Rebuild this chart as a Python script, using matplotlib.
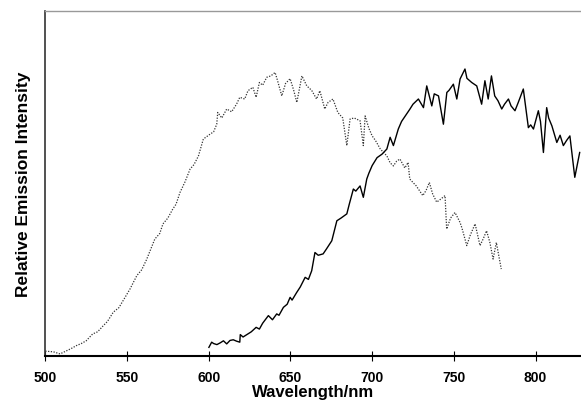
import matplotlib
matplotlib.use("Agg")
import matplotlib.pyplot as plt

# Dotted emission spectrum (wavelength nm, relative intensity)
dotted_nm = [500, 505, 509, 513, 516, 519, 522, 525, 529, 532, 535.5, 538, 541.6, 545, 548.8, 551.8, 556,
             559, 562, 567, 570, 572, 575, 578, 580,
             582.4, 585.5, 588.6, 591, 593.7, 596.7, 600.8, 603, 604.9, 605.5, 608, 611, 614, 617, 619,
             622, 624, 627, 629, 631, 633,
             635.5, 638, 640.6, 642, 644.7, 647, 649.8, 652, 653.9, 657, 660, 663, 666, 668, 671, 673,
             676, 679, 682, 684.5, 686.5, 689, 692.6, 694.6, 695.7, 698, 700, 702, 705, 709, 711, 713,
             715, 717, 720, 722, 723, 727, 731, 733, 735, 737, 739.5, 742, 744.6,
             745.6, 748, 750.7, 753.8, 755, 757.9, 760, 763, 766, 768, 770, 772, 774, 776, 779]
dotted_I = [0.014, 0.012, 0.006, 0.015, 0.022, 0.030, 0.036, 0.044, 0.064, 0.070, 0.088, 0.100, 0.127,
            0.140, 0.170, 0.194, 0.233, 0.250, 0.280,
            0.339, 0.355, 0.383, 0.400, 0.426, 0.440,
            0.474, 0.505, 0.542, 0.555, 0.580, 0.629, 0.643, 0.650, 0.672, 0.706, 0.690, 0.716, 0.708,
            0.730, 0.750, 0.745, 0.769, 0.779, 0.750, 0.793, 0.785, 0.808, 0.812, 0.822, 0.800, 0.754,
            0.790, 0.804, 0.770, 0.735, 0.812, 0.783, 0.770, 0.745, 0.769, 0.716, 0.735, 0.745, 0.706,
            0.690, 0.610, 0.687, 0.690, 0.682, 0.610, 0.696, 0.660, 0.638, 0.625, 0.600, 0.580, 0.560,
            0.551, 0.565, 0.571, 0.545, 0.561, 0.513, 0.493, 0.465, 0.480, 0.503, 0.470, 0.446, 0.455,
            0.465, 0.368, 0.400, 0.416, 0.387, 0.370, 0.320, 0.350, 0.383, 0.320, 0.340, 0.363, 0.330,
            0.281, 0.329, 0.252]

# Solid emission spectrum
solid_nm = [600.1, 601.8, 603, 605, 607, 609, 611, 613, 615, 617, 619, 619.3, 621, 624, 626, 629, 631,
            633, 636.5, 639, 641.6, 643, 645.7, 648, 649.8, 651, 653.8, 656, 659, 661, 663, 665, 667,
            670, 672, 675.3, 678.4, 681, 684.5, 686, 688.5, 690, 692.6, 694.6, 696.7, 698, 700, 703,
            706, 709, 711, 713, 716, 718, 721, 723, 725, 728.3, 731.4, 733.4, 736.5, 738, 740.6,
            743.6, 745.7, 747, 749.7, 751.8, 753.8, 756.8, 758, 760.9, 764, 767, 769, 771, 773, 775,
            777, 779.3, 781, 783.4, 785, 787.4, 789.4, 792.5, 795.6, 797, 798.7, 801.7, 803, 804.8,
            806.8, 808, 810, 813, 815, 817, 819, 821, 824, 827]
solid_I = [0.025, 0.040, 0.036, 0.033, 0.038, 0.044, 0.035, 0.045, 0.047, 0.043, 0.040, 0.062, 0.055,
           0.064, 0.070, 0.083, 0.078, 0.095, 0.117, 0.105, 0.122, 0.118, 0.141, 0.150, 0.170, 0.162,
           0.184, 0.200, 0.228, 0.222, 0.247, 0.300, 0.292, 0.296, 0.310, 0.334, 0.392, 0.400, 0.412,
           0.440, 0.484, 0.478, 0.493, 0.460, 0.513, 0.530, 0.552, 0.575, 0.585, 0.600, 0.634, 0.610,
           0.658, 0.680, 0.701, 0.715, 0.730, 0.745, 0.720, 0.783, 0.725, 0.760, 0.754, 0.672, 0.764,
           0.770, 0.788, 0.745, 0.803, 0.832, 0.805, 0.793, 0.783, 0.730, 0.798, 0.745, 0.812, 0.754,
           0.740, 0.716, 0.730, 0.745, 0.725, 0.711, 0.735, 0.774, 0.662, 0.670, 0.658, 0.711, 0.680,
           0.590, 0.720, 0.690, 0.667, 0.619, 0.640, 0.610, 0.625, 0.638, 0.518, 0.590]

x_ticks = [500, 550, 600, 650, 700, 750, 800]

plt.rcParams['font.family'] = ['Liberation Sans', 'DejaVu Sans']
fig = plt.figure(figsize=(5.81, 4.02), dpi=100)
ax = fig.add_axes([0.078, 0.112, 0.922, 0.858])

ax.plot(dotted_nm, dotted_I, color='#333333', lw=0.9, linestyle=(0, (1, 1.2)))
ax.plot(solid_nm, solid_I, color='black', lw=1.0)

ax.set_xlim(500, 827.8)
ax.set_ylim(0, 1.0)
ax.set_xticks(x_ticks)
ax.set_xticklabels([str(t) for t in x_ticks], fontweight='bold', fontsize=10)
ax.set_yticks([])
ax.tick_params(axis='x', direction='inout', length=7, width=0.8, pad=6.5)

ax.spines['right'].set_visible(False)
ax.spines['top'].set_color('#999999')
ax.spines['top'].set_linewidth(1.0)
ax.spines['left'].set_color('#333333')
ax.spines['left'].set_linewidth(1.2)
ax.spines['bottom'].set_linewidth(1.5)

ax.set_xlabel('Wavelength/nm', fontweight='bold', fontsize=12, labelpad=0)
ax.set_ylabel('Relative Emission Intensity', fontweight='bold', fontsize=12.5, labelpad=10)

fig.savefig('out.png', dpi=100)
